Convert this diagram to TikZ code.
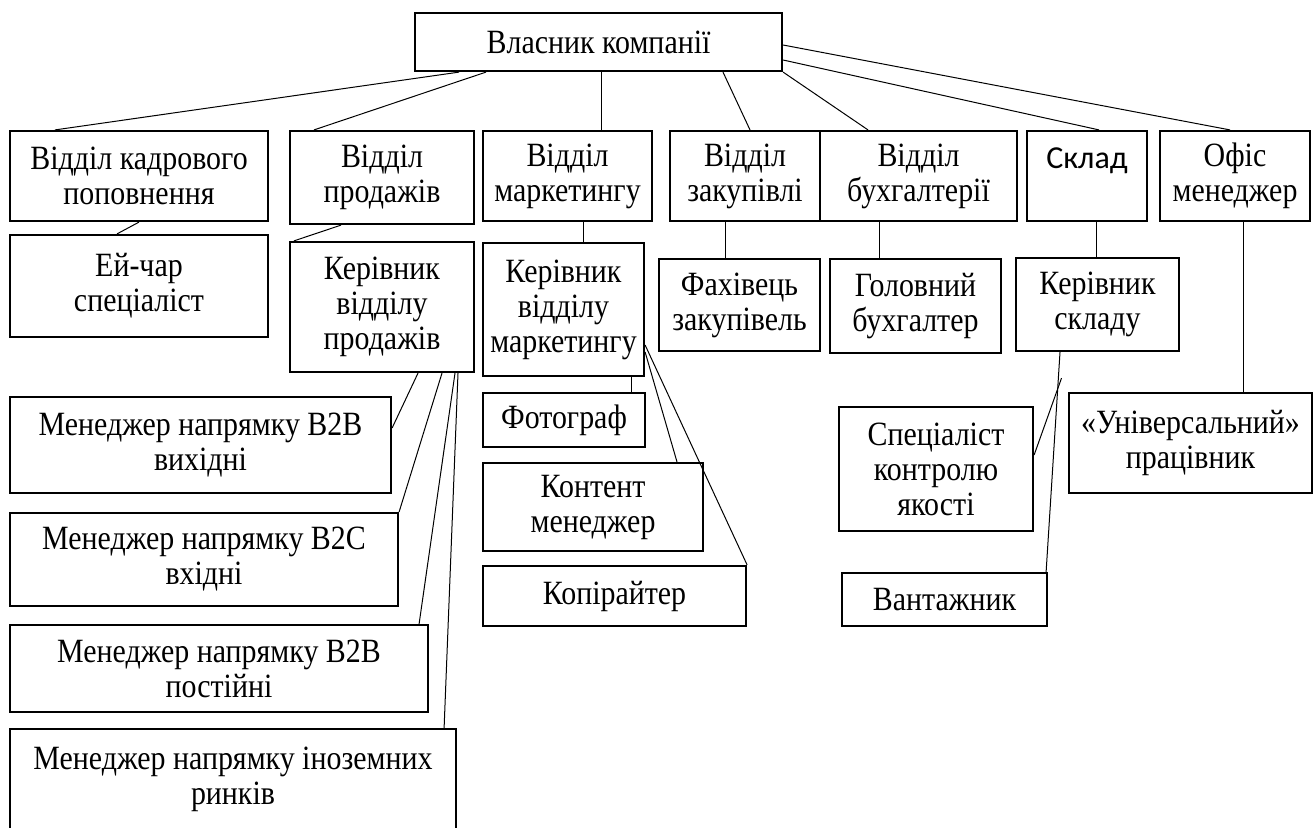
\documentclass[tikz,border=0pt]{standalone}
\usepackage{fontspec}
\setmainfont{Liberation Serif}[FakeStretch=0.88]
\newfontfamily\calibri{Carlito}
\begin{document}
\begin{tikzpicture}[x=0.5pt,y=-0.5pt,
every node/.style = {draw, line width=1.1pt, align=center, inner sep=0pt,
  font=\fontsize{17}{17.5}\selectfont},
link/.style = {line width=0.5pt}]

\useasboundingbox (0,0) rectangle (1316,827);

\node[minimum width=183.5pt, minimum height=29pt] (vlas) at (598.5,42) {Власник компанії};

% departments
\node[minimum width=129pt, minimum height=45pt] (kadr) at (139,176) {Відділ кадрового\\поповнення};
\node[minimum width=92pt, minimum height=46.5pt] (prod) at (382,177.5) {Відділ\\продажів};
\node[minimum width=84.5pt, minimum height=45pt] (mark) at (567.5,176) {Відділ\\маркетингу};
\node[minimum width=75pt, minimum height=45pt] (zakup) at (745,176) {Відділ\\закупівлі};
\node[minimum width=98.5pt, minimum height=45pt] (buh) at (918.5,176) {Відділ\\бухгалтерії};
\node[minimum width=60pt, minimum height=45pt] (sklad) at (1087,176) {\fontsize{16}{19}\calibri Склад\\\mbox{}};
\node[minimum width=75pt, minimum height=45pt] (ofis) at (1235,176) {Офіс\\менеджер};

% heads
\node[minimum width=129pt, minimum height=51pt] (ejchar) at (139,286) {Ей-чар\\спеціаліст};
\node[minimum width=92pt, minimum height=65pt] (kprod) at (382,307) {Керівник\\відділу\\продажів};
\node[minimum width=80.5pt, minimum height=66.5pt] (kmark) at (563.5,309.5) {Керівник\\відділу\\маркетингу};
\node[minimum width=80.5pt, minimum height=46pt] (fah) at (739.5,305) {Фахівець\\закупівель};
\node[minimum width=85.5pt, minimum height=47pt] (golov) at (915.5,306) {Головний\\бухгалтер};
\node[minimum width=81.5pt, minimum height=46.5pt] (ksklad) at (1097.5,304.5) {Керівник\\складу};

% sales
\node[minimum width=190.5pt, minimum height=48pt] (b2bout) at (200.5,445) {Менеджер напрямку B2B\\вихідні};
\node[minimum width=194pt, minimum height=46.5pt] (b2cin) at (204,559.5) {Менеджер напрямку B2C\\вхідні};
\node[minimum width=209pt, minimum height=43.5pt] (b2bperm) at (219,668.5) {Менеджер напрямку B2B\\постійні};
\node[minimum width=223pt, minimum height=50.5pt] (foreign) at (233,779.5) {Менеджер напрямку іноземних\\ринків};

% marketing
\node[minimum width=81pt, minimum height=27pt] (foto) at (564,420) {Фотограф};
\node[minimum width=110pt, minimum height=44pt] (kont) at (593,507) {Контент\\менеджер};
\node[minimum width=131.5pt, minimum height=30pt] (kopi) at (614.5,596) {Копірайтер};

% warehouse, office
\node[minimum width=97pt, minimum height=62pt] (spec) at (936,469) {Спеціаліст\\контролю\\якості};
\node[minimum width=102.5pt, minimum height=26.5pt] (vant) at (944.5,599.5) {Вантажник};
\node[minimum width=121.5pt, minimum height=50pt] (univ) at (1190.5,443) {«Універсальний»\\працівник};

% owner links
\draw[link] ([xshift=-69.75pt]vlas.south) -- ([xshift=-42pt]kadr.north);
\draw[link] ([xshift=-56.25pt]vlas.south) -- ([xshift=-34pt]prod.north);
\draw[link] ([xshift=1.25pt]vlas.south) -- ([xshift=1.25pt]vlas.south |- mark.north);
\draw[link] ([xshift=62.25pt]vlas.south) -- ([xshift=2.5pt]zakup.north);
\draw[link] (vlas.south east) -- ([xshift=-25.25pt]buh.north);
\draw[link] ([yshift=-9pt]vlas.east) -- ([xshift=6pt]sklad.north);
\draw[link] ([yshift=-1.5pt]vlas.east) -- ([xshift=-2.5pt]ofis.north);

% department links
\draw[link] (kadr.south) -- ([xshift=-11pt]ejchar.north);
\draw[link] ([xshift=-20.5pt]prod.south) -- ([xshift=2.5pt]kprod.north west);
\draw[link] ([xshift=7.75pt]mark.south) -- ([xshift=7.75pt]mark.south |- kmark.north);
\draw[link] ([xshift=-10pt]zakup.south) -- ([xshift=-10pt]zakup.south |- fah.north);
\draw[link] ([xshift=-19.75pt]buh.south) -- ([xshift=-19.75pt]buh.south |- golov.north);
\draw[link] ([xshift=4.5pt]sklad.south) -- ([xshift=4.5pt]sklad.south |- ksklad.north);
\draw[link] ([xshift=4pt]ofis.south) -- ([xshift=4pt]ofis.south |- univ.north);

% sales links
\draw[link] ([xshift=18pt]kprod.south) -- ([yshift=8.5pt]b2bout.east);
\draw[link] ([xshift=30pt]kprod.south) -- (b2cin.north east);
\draw[link] ([xshift=36.5pt]kprod.south) -- ([xshift=-5pt]b2bperm.north east);
\draw[link] ([xshift=38pt]kprod.south) -- ([xshift=-6.5pt]foreign.north east);

% marketing links
\draw[link] ([xshift=33.75pt]kmark.south) -- ([xshift=33.75pt]kmark.south |- foto.north);
\draw[link] ([yshift=-21.25pt]kmark.east) -- ([xshift=42pt]kont.north);
\draw[link] ([yshift=-17.75pt]kmark.east) -- (kopi.north east);

% warehouse links
\coordinate (kskfork) at ([xshift=-18pt,yshift=-13pt]ksklad.south);
\draw[link] ([xshift=-18.75pt]ksklad.south) -- ([xshift=-1pt]vant.north east);
\draw[link] (kskfork) -- ([yshift=7pt]spec.east);
\end{tikzpicture}
\end{document}
